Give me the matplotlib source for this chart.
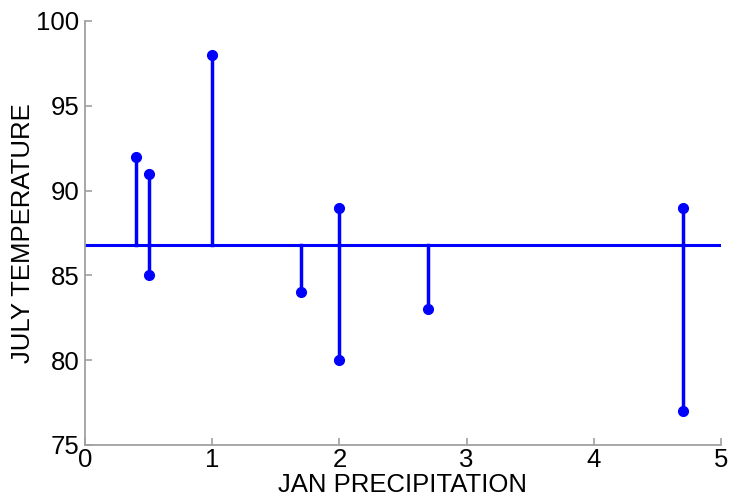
import matplotlib
matplotlib.use("Agg")
import matplotlib.pyplot as plt
import numpy as np

jan_precip = [0.4, 0.5, 0.5, 1.0, 1.7, 2.0, 2.0, 2.7, 4.7, 4.7]
july_temp = [92, 91, 85, 98, 84, 89, 80, 83, 89, 77]
mean_temp = float(np.mean(july_temp))
xticks = [0, 1, 2, 3, 4, 5]
yticks = [75, 80, 85, 90, 95, 100]

plt.rcParams['font.family'] = ['Liberation Sans', 'DejaVu Sans']
fig = plt.figure(figsize=(7.3, 4.99), dpi=100)
ax = fig.add_axes([85/730, 54/499, 636/730, 424/499])

blue = '#0000ff'
ax.plot([0, 5], [mean_temp, mean_temp], color=blue, lw=2.2, zorder=2)
for x, y in zip(jan_precip, july_temp):
    ax.plot([x, x], [mean_temp, y], color=blue, lw=2.5, zorder=2)
ax.plot(jan_precip, july_temp, 'o', color=blue, ms=7, zorder=3)

ax.set_xlim(0, 5)
ax.set_ylim(75, 100)
ax.set_xticks(xticks)
ax.set_yticks(yticks)
for s in ['top', 'right']:
    ax.spines[s].set_visible(False)
for s in ['left', 'bottom']:
    ax.spines[s].set_color('#a0a0a0')
    ax.spines[s].set_linewidth(1.3)
ax.tick_params(direction='in', length=5, color='#a0a0a0', width=1.2,
               labelsize=18.5)
ax.tick_params(axis='y', pad=4)
ax.tick_params(axis='x', pad=2)
ax.set_xlabel('JAN PRECIPITATION', fontsize=18.5, labelpad=1)
ax.set_ylabel('JULY TEMPERATURE', fontsize=18.5, labelpad=1)

fig.savefig('out.png', dpi=100)
